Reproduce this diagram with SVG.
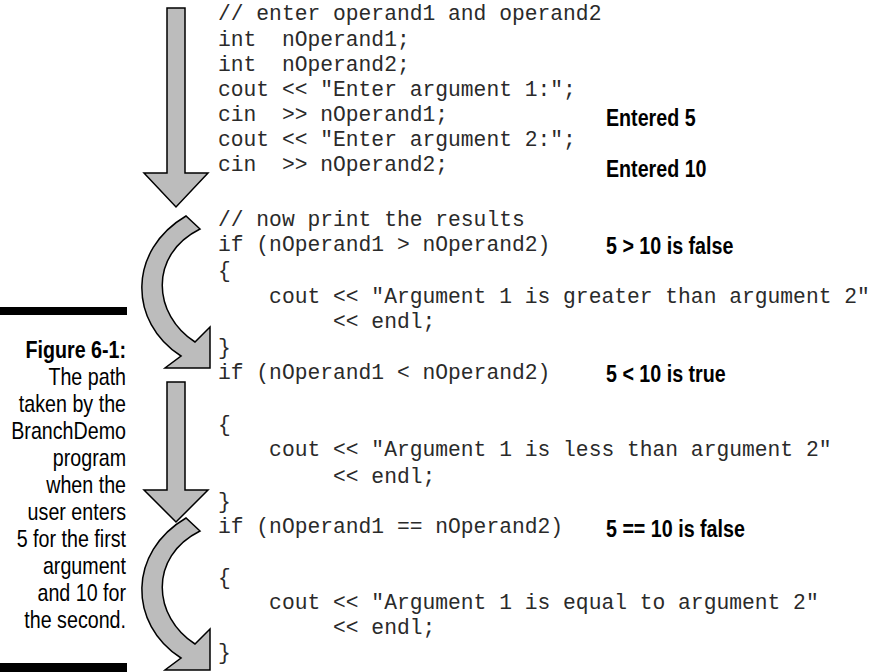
<svg xmlns="http://www.w3.org/2000/svg" xmlns:xlink="http://www.w3.org/1999/xlink" width="872" height="672" viewBox="0 0 872 672">
  <style>
    .code { font-family: "Liberation Mono", "Courier New", monospace; font-size: 21.3px; fill: #2a2a2a; white-space: pre; }
    .note { font-family: "Liberation Sans", Arial, sans-serif; font-size: 24px; font-weight: bold; fill: #000; }
    .cap { font-family: "Liberation Sans", Arial, sans-serif; font-size: 24px; fill: #000; text-anchor: end; }
    .cap-b { font-weight: bold; }
    .flow { fill: #bcbcbc; stroke: #000; stroke-width: 1.5; stroke-linejoin: miter; }
    .bar { fill: #000; }
  </style>
  <defs>
    <!-- bent arrow that swings left and lands pointing down-right -->
    <path id="bend" class="flow" d="M186,216 C128,250 128,322 181,356 L165,368 L210,368 L210,327 L195,342 C153,315 148,255 200,229 Z"/>
  </defs>
  <rect width="872" height="672" fill="#fff"/>

  <!-- caption column (condensed face: Arial metrics squeezed to 82 %) -->
  <g id="caption">
    <rect class="bar" x="0" y="307" width="127" height="8"/>
    <g transform="scale(0.82 1)">
      <text class="cap cap-b" x="153.7" y="358">Figure 6-1:</text>
      <text class="cap" x="153.7" y="385">The path</text>
      <text class="cap" x="153.7" y="412">taken by the</text>
      <text class="cap" x="153.7" y="439">BranchDemo</text>
      <text class="cap" x="153.7" y="466">program</text>
      <text class="cap" x="153.7" y="493">when the</text>
      <text class="cap" x="153.7" y="520">user enters</text>
      <text class="cap" x="153.7" y="547">5 for the first</text>
      <text class="cap" x="153.7" y="574">argument</text>
      <text class="cap" x="153.7" y="601">and 10 for</text>
      <text class="cap" x="153.7" y="628">the second.</text>
    </g>
    <rect class="bar" x="0" y="663" width="127" height="9"/>
  </g>

  <!-- execution path arrows -->
  <g id="flow-arrows">
    <polygon id="flow-input" class="flow" points="167,8 185,8 185,173 208,173 176,207 144,173 167,173"/>
    <use id="flow-skip-greater" xlink:href="#bend"/>
    <polygon id="flow-less" class="flow" points="167,382 185,382 185,490 208,490 176,522 144,490 167,490"/>
    <use id="flow-skip-equal" xlink:href="#bend" transform="translate(0,302)"/>
  </g>

  <!-- program listing -->
  <g id="listing">
    <text class="code" x="218" y="20">// enter operand1 and operand2</text>
    <text class="code" x="218" y="46">int  nOperand1;</text>
    <text class="code" x="218" y="71">int  nOperand2;</text>
    <text class="code" x="218" y="96">cout &lt;&lt; "Enter argument 1:";</text>
    <text class="code" x="218" y="121">cin  &gt;&gt; nOperand1;</text>
    <text class="code" x="218" y="146">cout &lt;&lt; "Enter argument 2:";</text>
    <text class="code" x="218" y="171">cin  &gt;&gt; nOperand2;</text>

    <text class="code" x="218" y="226">// now print the results</text>
    <text class="code" x="218" y="251">if (nOperand1 &gt; nOperand2)</text>
    <text class="code" x="218" y="277">{</text>
    <text class="code" x="218" y="303">    cout &lt;&lt; "Argument 1 is greater than argument 2"</text>
    <text class="code" x="218" y="328">         &lt;&lt; endl;</text>
    <text class="code" x="218" y="354">}</text>
    <text class="code" x="218" y="379">if (nOperand1 &lt; nOperand2)</text>
    <text class="code" x="218" y="431">{</text>
    <text class="code" x="218" y="456">    cout &lt;&lt; "Argument 1 is less than argument 2"</text>
    <text class="code" x="218" y="483">         &lt;&lt; endl;</text>
    <text class="code" x="218" y="508">}</text>
    <text class="code" x="218" y="533">if (nOperand1 == nOperand2)</text>
    <text class="code" x="218" y="584">{</text>
    <text class="code" x="218" y="609">    cout &lt;&lt; "Argument 1 is equal to argument 2"</text>
    <text class="code" x="218" y="634">         &lt;&lt; endl;</text>
    <text class="code" x="218" y="659">}</text>
  </g>

  <!-- run-time notes (same condensed treatment) -->
  <g id="notes" transform="scale(0.82 1)">
    <text class="note" x="739" y="126">Entered 5</text>
    <text class="note" x="739" y="177">Entered 10</text>
    <text class="note" x="739" y="254">5 &gt; 10 is false</text>
    <text class="note" x="739" y="382">5 &lt; 10 is true</text>
    <text class="note" x="739" y="537">5 == 10 is false</text>
  </g>
</svg>
